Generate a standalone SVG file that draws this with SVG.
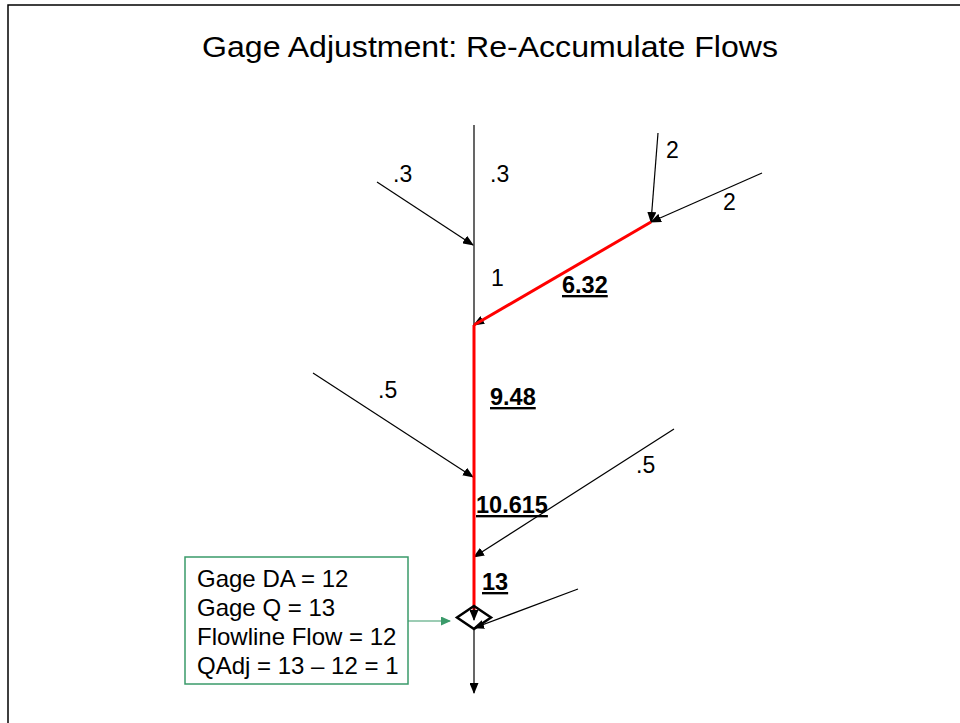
<svg xmlns="http://www.w3.org/2000/svg" width="960" height="723" viewBox="0 0 960 723">
<defs>
<marker id="ah" markerWidth="11" markerHeight="9" refX="10" refY="4.5" orient="auto" markerUnits="userSpaceOnUse"><path d="M0,0 L11,4.5 L0,9 Z" fill="#000"/></marker>
<marker id="ahg" markerWidth="10" markerHeight="9" refX="9" refY="4.5" orient="auto" markerUnits="userSpaceOnUse"><path d="M0,0 L10,4.5 L0,9 Z" fill="#3a9a6a"/></marker>
</defs>
<style>
.t{font-family:"Liberation Sans",Arial,sans-serif;fill:#000}
.n{font-size:23px}
.b{font-size:23.5px;font-weight:bold;text-decoration:underline}
.bx{font-size:24px}
.l{stroke:#000;stroke-width:1.2;fill:none}
.r{stroke:#ff0000;stroke-width:3;fill:none}
</style>
<rect x="0" y="0" width="960" height="723" fill="#fff"/>
<path d="M8,723 V5 H960" fill="none" stroke="#000" stroke-width="1.5"/>
<text class="t" x="202" y="57" font-size="29" textLength="576" lengthAdjust="spacingAndGlyphs">Gage Adjustment: Re-Accumulate Flows</text>
<g id="connectors">
<line class="l" x1="474" y1="125" x2="474" y2="325"/>
<line class="l" x1="377" y1="182" x2="473" y2="245" marker-end="url(#ah)"/>
<line class="l" x1="658" y1="133" x2="651" y2="222" marker-end="url(#ah)"/>
<line class="l" x1="762" y1="173" x2="651" y2="222" marker-end="url(#ah)"/>
<line class="l" x1="651" y1="222" x2="474" y2="325" marker-end="url(#ah)"/>
<line class="l" x1="313" y1="373" x2="473" y2="477" marker-end="url(#ah)"/>
<line class="l" x1="674" y1="429" x2="474" y2="557" marker-end="url(#ah)"/>
<line class="r" x1="651" y1="222" x2="474" y2="325"/>
<line class="r" x1="474" y1="325" x2="474" y2="612"/>
<line class="l" x1="474" y1="605" x2="474" y2="620" marker-end="url(#ah)"/>
<line class="l" x1="578" y1="589" x2="474" y2="628" marker-end="url(#ah)"/>
<line class="l" x1="474" y1="629" x2="474" y2="693" marker-end="url(#ah)"/>
<line x1="408" y1="621" x2="450" y2="621" stroke="#3a9a6a" stroke-width="1.2" marker-end="url(#ahg)"/>
</g>
<g id="gage">
<path d="M474,606 L491,617.5 L474,629 L457,617.5 Z" fill="none" stroke="#000" stroke-width="2.5"/>
</g>
<g id="infobox">
<rect x="185" y="557" width="223" height="127" fill="#fff" stroke="#3a9a6a" stroke-width="1.5"/>
<text class="t bx" x="197" y="587">Gage DA = 12</text>
<text class="t bx" x="197" y="616">Gage Q = 13</text>
<text class="t bx" x="197" y="645">Flowline Flow = 12</text>
<text class="t bx" x="197" y="674">QAdj = 13 – 12 = 1</text>
</g>
<g id="labels">
<text class="t n" x="393" y="182">.3</text>
<text class="t n" x="490" y="182">.3</text>
<text class="t n" x="491" y="286">1</text>
<text class="t n" x="666" y="158">2</text>
<text class="t n" x="723" y="210">2</text>
<text class="t n" x="378" y="398">.5</text>
<text class="t n" x="636" y="473">.5</text>
<text class="t b" x="562" y="293">6.32</text>
<text class="t b" x="490" y="405">9.48</text>
<text class="t b" x="476" y="513">10.615</text>
<text class="t b" x="482" y="590">13</text>
</g>
</svg>
